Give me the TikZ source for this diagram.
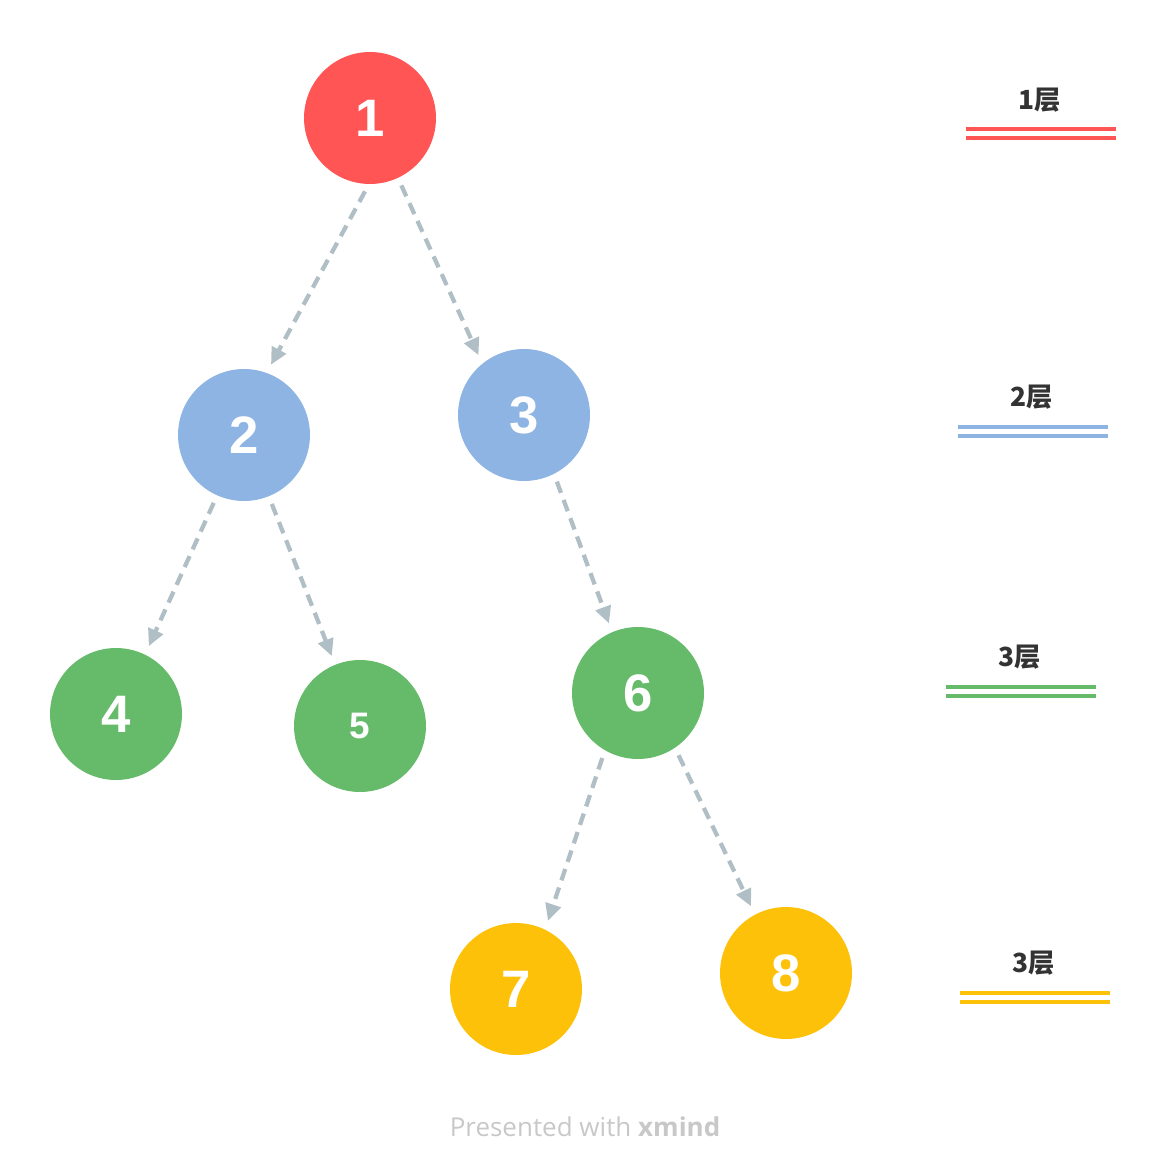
\documentclass[tikz,border=0pt]{standalone}
\usepackage{fontspec}
\setmainfont{Liberation Sans}
\newfontfamily\cjkfont{Noto Sans CJK SC}
\newfontfamily\footfont{Open Sans}
\usetikzlibrary{arrows.meta}

\definecolor{lvred}{HTML}{FF5555}
\definecolor{lvblue}{HTML}{8EB4E3}
\definecolor{lvgreen}{HTML}{66BB6A}
\definecolor{lvyellow}{HTML}{FDC10A}
\definecolor{linkgray}{HTML}{B0BEC5}
\definecolor{labelgray}{HTML}{333333}
\definecolor{footgray}{HTML}{C8C8C8}

\begin{document}
\begin{tikzpicture}[x=0.02cm,y=-0.02cm,
  ball/.style={shape=circle,inner sep=0pt,minimum size=2.64cm,text=white,
    font=\bfseries\fontsize{30}{30}\selectfont},
  link/.style={draw=linkgray,line width=0.085cm,dash pattern=on 0.24cm off 0.15cm,
    -{Triangle[length=0.34cm,width=0.31cm]},shorten <=0.16cm,shorten >=0.18cm},
  layer/.style={text=labelgray,font=\cjkfont\bfseries\fontsize{15}{15}\selectfont},
  layerline/.style={line width=0.08cm}]
\useasboundingbox (0,0) rectangle (1166,1176);

\node[ball,fill=lvred](N1) at (370,118) {1};
\node[ball,fill=lvblue](N2) at (244,435) {2};
\node[ball,fill=lvblue](N3) at (524,415) {3};
\node[ball,fill=lvgreen](N4) at (116,714) {4};
\node[ball,fill=lvgreen,font=\bfseries\fontsize{21}{21}\selectfont](N5) at (360,726) {5};
\node[ball,fill=lvgreen](N6) at (638,693) {6};
\node[ball,fill=lvyellow](N7) at (516,989) {7};
\node[ball,fill=lvyellow](N8) at (786,973) {8};

\draw[link] (N1.-91) -- (N2.70);
\draw[link] (N1.-65) -- (N3.129);
\draw[link] (N2.-114) -- (N4.64);
\draw[link] (N2.-68) -- (N5.112);
\draw[link] (N3.-63) -- (N6.113);
\draw[link] (N6.-120) -- (N7.64);
\draw[link] (N6.-56) -- (N8.118);

% layer marks
\node[layer](L1) at (1040,100) {1层};
\draw[layerline,lvred] (966,129) -- (1116,129) (966,138) -- (1116,138);
\node[layer](L2) at (1032,397) {2层};
\draw[layerline,lvblue] (958,427) -- (1108,427) (958,436) -- (1108,436);
\node[layer](L3) at (1020,657) {3层};
\draw[layerline,lvgreen] (946,687) -- (1096,687) (946,696) -- (1096,696);
\node[layer](L4) at (1034,963) {3层};
\draw[layerline,lvyellow] (960,993) -- (1110,993) (960,1002) -- (1110,1002);

\node[text=footgray,font=\footfont\fontsize{14.8}{14.8}\selectfont](foot) at (585,1127)
  {Presented with \textbf{xmind}};
\end{tikzpicture}
\end{document}
